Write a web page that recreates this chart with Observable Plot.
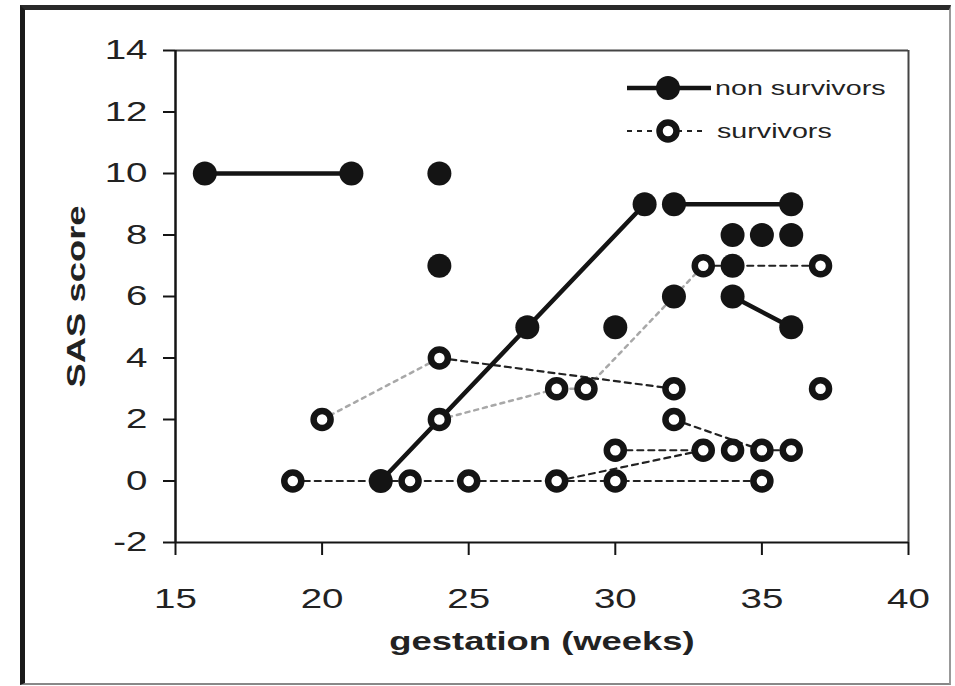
<!DOCTYPE html>
<html>
<head>
<meta charset="utf-8">
<script src="https://cdn.jsdelivr.net/npm/d3@7"></script>
<script src="https://cdn.jsdelivr.net/npm/@observablehq/plot@0.6"></script>
<style>
  html, body { margin: 0; padding: 0; background: #fff; }
  #wrap { position: relative; width: 955px; height: 686px; overflow: hidden; }
  #frame { position: absolute; left: 20px; top: 5px; width: 931px; height: 680px;
           border-left: 5px solid #1a1a1a; border-top: 5px solid #2a2a2a;
           border-right: 2px solid #999; border-bottom: 2px solid #888; box-sizing: border-box; }
  #wrap svg { position: absolute; left: 0; top: 0; }
</style>
</head>
<body>
<div id="wrap"><div id="frame"></div></div>
<script>
// ---- axis ticks ----
const xTicks = [15, 20, 25, 30, 35, 40];
const yTicks = [-2, 0, 2, 4, 6, 8, 10, 12, 14];

// ---- non survivors (filled markers, solid connecting lines per patient) ----
const nonSurvivorId    = ["n1","n1","n2","n3","n4","n4","n4","n5","n5","n6","n7","n8","n9","n10","n10","n11","n12"];
const nonSurvivorWeek  = [16, 21, 24, 24, 22, 27, 31, 32, 36, 34, 35, 36, 34, 34, 36, 32, 30];
const nonSurvivorScore = [10, 10, 10,  7,  0,  5,  9,  9,  9,  8,  8,  8,  7,  6,  5,  6,  5];

// ---- survivors (open markers) ----
const survivorWeek  = [19, 23, 25, 28, 30, 35, 20, 24, 24, 28, 29, 32, 33, 37, 37, 32, 30, 33, 34, 35, 36];
const survivorScore = [ 0,  0,  0,  0,  0,  0,  2,  4,  2,  3,  3,  3,  7,  7,  3,  2,  1,  1,  1,  1,  1];

// ---- survivor connecting traces ----
const survivorTraceId    = ["s1","s1","s1","s1","s1","s1","s2","s2","s3","s3","s4","s4","s4","s4","s5","s5","s6","s6","s7","s7","s8","s8","s9","s9"];
const survivorTraceWeek  = [19, 23, 25, 28, 30, 35, 20, 24, 24, 32, 24, 28, 29, 33, 32, 35, 30, 33, 28, 33, 35, 36, 33, 37];
const survivorTraceScore = [ 0,  0,  0,  0,  0,  0,  2,  4,  4,  3,  2,  3,  3,  7,  2,  1,  1,  1,  0,  1,  1,  1,  7,  7];
const grayTraces = ["s2", "s4"];

// ---- labels ----
const xTitle = "gestation (weeks)";
const yTitle = "SAS score";
const legendLabels = ["non survivors", "survivors"];

// build tables
const ns = nonSurvivorWeek.map((w, i) => ({id: nonSurvivorId[i], week: w, score: nonSurvivorScore[i]}));
const sv = survivorWeek.map((w, i) => ({week: w, score: survivorScore[i]}));
const tr = survivorTraceWeek.map((w, i) => ({id: survivorTraceId[i], week: w, score: survivorTraceScore[i]}));
const trBlack = tr.filter(d => !grayTraces.includes(d.id));
const trGray = tr.filter(d => grayTraces.includes(d.id));

const FONT = "'Liberation Sans', Arial, Helvetica, sans-serif";
const INK = "#141414";

const chart = Plot.plot({
  width: 955,
  height: 686,
  marginLeft: 175,
  marginRight: 47,
  marginTop: 50,
  marginBottom: 144,
  style: {fontFamily: FONT, color: "#222", background: "transparent", overflow: "visible"},
  x: {domain: [15, 40]},
  y: {domain: [-2, 14]},
  marks: [
    // plot-area frame (top and right)
    Plot.ruleY([14], {stroke: "#444", strokeWidth: 2}),
    Plot.ruleX([40], {stroke: "#444", strokeWidth: 2}),
    // axes
    Plot.axisX({ticks: xTicks, tickSize: 13, tickPadding: 33, fontSize: 27.5, label: null,
                tickFormat: d => String(d), stroke: INK, strokeWidth: 2}),
    Plot.axisY({ticks: yTicks, tickSize: 12, tickPadding: 16, fontSize: 27.5, label: null,
                tickFormat: d => String(d), stroke: INK, strokeWidth: 2}),
    Plot.ruleX([15], {stroke: INK, strokeWidth: 2.5}),
    Plot.ruleY([-2], {stroke: INK, strokeWidth: 2}),
    // axis titles
    Plot.text([xTitle], {frameAnchor: "bottom", textAnchor: "middle", lineAnchor: "middle", dy: 99,
                         fontSize: 26, fontWeight: "bold", fill: "#222"}),
    Plot.text([yTitle], {frameAnchor: "left", textAnchor: "middle", lineAnchor: "middle", dx: -99, rotate: -90,
                         fontSize: 26, fontWeight: "bold", fill: "#222"}),
    // survivor traces
    Plot.line(trGray, {x: "week", y: "score", z: "id", stroke: "#a8a8a8", strokeWidth: 2.5, strokeDasharray: "4,5"}),
    Plot.line(trBlack, {x: "week", y: "score", z: "id", stroke: "#222", strokeWidth: 2.2, strokeDasharray: "6,5"}),
    // non survivor lines
    Plot.line(ns, {x: "week", y: "score", z: "id", stroke: INK, strokeWidth: 4.5}),
    // markers
    Plot.dot(ns, {x: "week", y: "score", r: 12, fill: INK, stroke: "none"}),
    Plot.dot(sv, {x: "week", y: "score", r: 8.5, fill: "white", stroke: INK, strokeWidth: 6.5})
  ]
});

document.getElementById("wrap").append(chart);

// ---- legend (inside the plot area, top right) ----
const svg = d3.select(chart);
const lg = svg.append("g").attr("font-family", FONT).attr("fill", "#222").attr("text-anchor", "start");
lg.append("line").attr("x1", 627).attr("x2", 711).attr("y1", 88).attr("y2", 88)
  .attr("stroke", INK).attr("stroke-width", 4.5);
lg.append("circle").attr("cx", 668).attr("cy", 88).attr("r", 12).attr("fill", INK);
lg.append("text").attr("x", 715).attr("y", 88).attr("dy", "0.35em").attr("font-size", 20.5)
  .attr("text-anchor", "start").text(legendLabels[0]);
lg.append("line").attr("x1", 627).attr("x2", 705).attr("y1", 131).attr("y2", 131)
  .attr("stroke", "#222").attr("stroke-width", 2.2).attr("stroke-dasharray", "5,5");
lg.append("circle").attr("cx", 668).attr("cy", 131).attr("r", 8.5).attr("fill", "white")
  .attr("stroke", INK).attr("stroke-width", 6.5);
lg.append("text").attr("x", 717).attr("y", 131).attr("dy", "0.35em").attr("font-size", 20.5)
  .attr("text-anchor", "start").text(legendLabels[1]);

// ---- stretch all text horizontally (along its own direction), as in the reference ----
const S = 1.4;
chart.querySelectorAll("text").forEach(t => {
  const b = t.getBBox();
  const anchor = getComputedStyle(t).textAnchor;
  const ax = anchor === "middle" ? b.x + b.width / 2 : anchor === "end" ? b.x + b.width : b.x;
  const prev = t.getAttribute("transform") || "";
  t.setAttribute("transform", `${prev} translate(${ax},0) scale(${S},1) translate(${-ax},0)`);
});
</script>
</body>
</html>
